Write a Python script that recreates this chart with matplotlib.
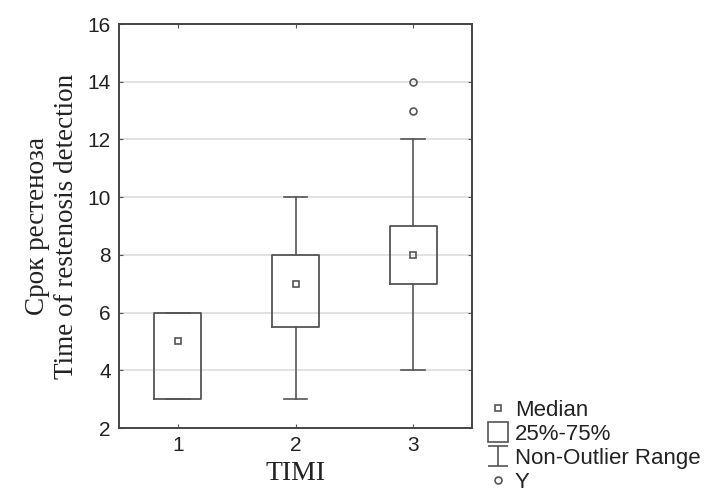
import matplotlib.pyplot as plt
from matplotlib.path import Path
from matplotlib.lines import Line2D

groups = [1, 2, 3]
q1 = [3, 5.5, 7]
q3 = [6, 8, 9]
medians = [5, 7, 8]
whislo = [3, 3, 4]
whishi = [6, 10, 12]
outliers = [[], [], [13, 14]]

line_col = "#555555"

stats = []
for i, g in enumerate(groups):
    stats.append(dict(label=str(g), q1=q1[i], q3=q3[i], med=medians[i],
                      whislo=whislo[i], whishi=whishi[i], fliers=outliers[i]))

fig = plt.figure(figsize=(7.04, 4.94), dpi=100)
ax = fig.add_axes([119 / 704, 1 - 428 / 494, 353 / 704, 404 / 494])

ax.bxp(stats, positions=groups, widths=0.4, showfliers=False,
       boxprops=dict(color=line_col, linewidth=1.3),
       whiskerprops=dict(color=line_col, linewidth=1.2),
       capprops=dict(color=line_col, linewidth=1.2),
       medianprops=dict(linewidth=0), capwidths=0.2)

ax.plot(groups, medians, "s", ms=5, mfc="none", mec=line_col, mew=1.2)
for g, out in zip(groups, outliers):
    ax.plot([g] * len(out), out, "o", ms=5, mfc="none", mec=line_col, mew=1.2)

ax.set_xlim(0.5, 3.5)
ax.set_ylim(2, 16)
ax.set_yticks(range(2, 17, 2))
ax.set_xticks(groups)
ax.set_xticklabels([str(g) for g in groups])
ax.yaxis.grid(True, color="#dddddd", linewidth=1.2)
ax.set_axisbelow(True)
ax.tick_params(direction="in", length=3, top=True, right=True, color=line_col,
               labelsize=15, labelcolor="#222222", pad=6)
for lbl in ax.get_xticklabels() + ax.get_yticklabels():
    lbl.set_family("Liberation Sans")
for s in ax.spines.values():
    s.set_color("#444444")
    s.set_linewidth(1.4)

ax.set_ylabel("Срок рестеноза\nTime of restenosis detection", family="Liberation Serif",
              fontsize=19.5, color="#222222", labelpad=6, linespacing=1.2)
ax.set_xlabel("TIMI", family="Liberation Serif", fontsize=20, color="#222222", labelpad=4)

whisk = Path([(-1, 1), (1, 1), (0, 1), (0, -1), (-1, -1), (1, -1)],
             [Path.MOVETO, Path.LINETO, Path.MOVETO, Path.LINETO, Path.MOVETO, Path.LINETO])
handles = [
    Line2D([], [], ls="none", marker="s", ms=5, mfc="none", mec=line_col, mew=1.2),
    Line2D([], [], ls="none", marker="s", ms=14, mfc="none", mec=line_col, mew=1.2),
    Line2D([], [], ls="none", marker=whisk, ms=14, mfc="none", mec=line_col, mew=1.2),
    Line2D([], [], ls="none", marker="o", ms=5, mfc="none", mec=line_col, mew=1.2),
]
labels = ["Median", "25%-75%", "Non-Outlier Range", "Y"]
fig.legend(handles, labels, loc="upper left", bbox_to_anchor=(478 / 704, 1 - 389 / 494),
           frameon=False, prop=dict(family="Liberation Sans", size=16),
           handlelength=0.8, handletextpad=0.35, labelspacing=0.13, borderpad=0,
           labelcolor="#222222")

fig.savefig("out.png", dpi=100, facecolor="white")
